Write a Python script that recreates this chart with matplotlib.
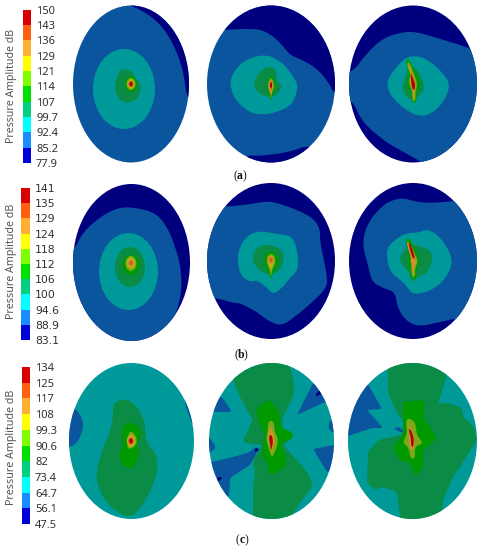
# pressure amplitude contour panels, outlines (pixel coords)

from matplotlib.pyplot import figure, close
from matplotlib.patches import Ellipse, Polygon
import matplotlib.colors as mc
import matplotlib.cm as cm
import numpy as n

## colorbar levels
levels_a = [77.9,85.2,92.4,99.7,107,114,121,129,136,143,150]
levels_b = [83.1,88.9,94.6,100,106,112,118,124,129,135,141]
levels_c = [47.5,56.1,64.7,73.4,82,90.6,99.3,108,117,125,134]
labels_a = ['77.9','85.2','92.4','99.7','107','114','121','129','136','143','150']
labels_b = ['83.1','88.9','94.6','100','106','112','118','124','129','135','141']
labels_c = ['47.5','56.1','64.7','73.4','82','90.6','99.3','108','117','125','134']

## colours
bar_cols = ['#0000d8','#1a8cff','#00ffff','#00d080','#00e000','#80ff00','#ffff00','#ffb030','#ff6010','#d80000']
map_cols = ['#00007f','#0b559f','#00999a','#0a8c46','#009a00','#7fa818','#bfb014','#d0902a','#c8601e','#b00010']

## panel shape : cx, cy, rx, ry
shapes_a = [(131,84,58,78.5),(271,84,64,78.5),(413,84,64,78.5)]
shapes_b = [(131.5,262.5,58.5,78.5),(271,261,64,78),(413,261,64,78)]
shapes_c = [(131.5,441,62.5,78),(271.5,441,62.5,78),(412.5,441,64.5,78)]

## contour regions : (level, outline) or (level, (cx,cy,rx,ry))
a1 = [
	(0,[(127,4),(145,12),(160,24),(170,38),(178,55),(184,75),(187,100),(200,100),(200,0),(127,0)]),
	(2,(124,89,31,40)),
	(3,[(127,69),(133,72),(135,78),(140,83),(141.5,90),(137,99),(128,103.5),(119,100),(114.5,88),(117,76),(121,69.5)]),
	(4,(131,84,6,8)),(5,(131,84,4.5,6)),(6,(131,84,3.5,4.5)),(8,(131,84,2.5,3.2)),(9,(131,84,1.6,2.2)),
]
a2 = [
	(0,[(200,30),(225,30),(240,29),(260,29),(273,36),(283,46),(290,55),(300,59),(315,67),(327,80),(335,95),(345,95),(345,0),(200,0)]),
	(0,[(311,144),(290,152),(260,156),(245,155),(240,170),(330,170)]),
	(2,[(263,55),(273,57),(285,65),(297,82),(297.5,90),(293,103),(283,110),(265,115),(250,113),(235,100),(230,85),(232,75),(240,64),(250,58)]),
	(3,[(270,66),(277,71),(276,80),(282,85),(280,92),(272,97.5),(260,95),(253,85),(257,75),(263,69)]),
	(4,[(271,74),(274,80),(275.5,87),(273,93),(271,102),(269,93),(266.5,87),(268,80)]),
	(5,[(271,77),(273.5,82),(274.5,87),(272,92),(271,100),(270,92),(267.5,87),(268.5,82)]),
	(7,[(271,79),(273,84),(273,89),(271.5,94),(270.5,94),(269,89),(269,84)]),
	(9,[(271,81),(272.5,85),(271,90),(269.5,85)]),
]
a3 = [
	(1,[(340,70),(352,73),(367,53),(383,38),(403,32),(417,32),(437,38),(470,48),(490,60),(490,170),(425,170),(422,162),(387,143),(363,123),(352,100),(340,98)]),
	(2,[(410,56),(423,57),(437,67),(448,80),(449.5,88),(443,103),(430,115),(417,116),(403,108),(390,95),(386.5,83),(392,72),(403,60)]),
	(3,[(410,66),(416,68),(421,76),(425,88),(420,95),(413,100.5),(405,96),(402,88),(405,78)]),
	(4,[(408,58),(411,63),(413,68),(418,77),(420.5,83),(418,90),(416,93),(416.5,103),(412,103),(411,92),(407,87),(408,75),(406.5,65),(406.5,60)]),
	(5,[(408,61),(411,66),(414,74),(417.5,84),(415.5,92),(415.5,101),(412.5,101),(412,90),(408.5,84),(410.5,74),(407,66)]),
	(7,[(408.5,63),(410,68),(413,75),(416,85),(414,92),(414.5,100),(413,100),(413,90),(410,82),(411,73),(408.5,68)]),
	(9,[(410.5,72),(413,78),(415.5,85),(414,91),(412,88),(411,80)]),
]
b1 = [
	(1,[(60,255),(73,252),(83,232),(100,217),(117,208),(132,207),(157,213),(170,232),(180,262),(182,288),(177,312),(168,328),(170,350),(60,350)]),
	(2,(128.5,271.5,29.5,38.5)),
	(3,(130,267,15,20)),
	(4,(131,265,8.5,10)),(5,(131,263.5,5.5,7.5)),(6,(131,263,4,5.5)),(7,(131,263,3,4)),(8,(131,263,1.7,2.2)),
]
b2 = [
	(1,[(200,298),(217,298),(233,303),(240,303),(257,312),(270,322),(283,326),(307,307),(327,288),(327,275),(320,242),(320,228),(312,217),(290,207),(270,201),(257,203),(250,204),(227,207),(200,205)]),
	(2,[(260,231),(277,234),(293,236),(298,255),(298,270),(290,278),(280,290),(273,294),(267,288),(257,280),(250,282),(240,275),(237,257),(242,242),(250,234)]),
	(3,[(265,244),(278,247),(285,255),(282,268),(273,275),(262,273),(253,263),(253,253),(258,247)]),
	(4,[(271,251),(276,254),(279,260),(276,268),(273,272),(271,281),(269,272),(266,268),(263.5,260),(266,254)]),
	(5,[(271,253),(275,257),(275.5,263),(272,270),(271,278),(270,270),(266.5,263),(267,257)]),
	(6,[(271,255),(274,258),(274,263),(271.5,268),(271,274),(270.5,268),(268,263),(268,258)]),
	(7,(271,260,3,3.8)),(8,(271,260,1.6,2.2)),
]
b3 = [
	(1,[(403,198),(417,202),(433,203),(453,201),(478,200),(490,250),(490,320),(458,318),(440,322),(417,327),(403,318),(397,305),(395,292),(383,288),(372,282),(368,265),(362,243),(368,222),(383,205),(393,200)]),
	(2,[(387,248),(397,238),(407,233),(417,233),(428,229),(440,237),(450,252),(452.5,265),(443,282),(428,292),(413,294.5),(407,287),(403,282),(390,272),(387,258)]),
	(3,[(407,248),(415,244),(430,250),(433,258),(428,273),(417,277),(415,281.5),(411,280.5),(410,273),(402,265),(399,257)]),
	(4,[(408,237),(412,242),(418,255),(419.5,263),(416,268),(416.5,279),(411,279),(409,265),(408,257),(408,250),(405.5,243)]),
	(5,[(407,240),(411,246),(416,256),(418,262),(415,268),(415,277),(412,277),(411,266),(412,258),(407.5,247)]),
	(7,[(407,241.5),(411,245),(416,258),(416.5,263),(414,268),(414,276),(413,276),(411.5,260),(407.5,246)]),
	(9,[(408,242.5),(410.5,243.5),(415.5,259),(413,260)]),
	(7,(413,261,2.5,3)),
]
c1 = [
	(1,[(75,407),(85,423),(78,443),(68,448),(60,448),(60,407)]),
	(1,[(182,395),(193,427),(200,427),(200,395)]),
	(3,[(120,400),(128,399),(138,408),(145,422),(145,433),(148,445),(157,455),(157.5,473),(148,497),(132,519),(113,510),(100,493),(95.5,475),(102,450),(110,433),(113,417),(113,403)]),
	(4,[(131,422),(140,428),(142,435),(137,442),(139,453),(137,463),(130,469.5),(122,465),(119,455),(123,445),(121,433),(124,425)]),
	(5,[(130,431),(135,434),(137.5,442),(133,448),(128,449),(127,443),(128,436)]),
	(6,(131,441,4.2,6)),(7,(131,441,3.2,4.5)),(8,(131,441,2.5,3.4)),(9,(131,441,1.7,2.4)),
]
c2 = [
	(1,[(222,397),(232,412),(213,412),(205,412),(205,397)]),
	(1,[(209,437),(216,447),(212,452),(200,452),(200,437)]),
	(1,[(212,462),(233,457),(250,452),(255,447),(259,448),(257,452),(250,465),(230,478),(229,497),(200,497),(200,462)]),
	(1,[(313,383),(297,415),(325,402),(345,400),(345,383)]),
	(1,[(328,428),(333,433),(345,433),(345,420),(330,420)]),
	(1,[(313,449),(333,445),(345,445),(345,475),(327,472)]),
	(0,[(315,396),(319,390),(322,393),(318,396)]),
	(0,[(217,477),(223,477),(218,482)]),
	(0,[(255,448),(260,449),(255,453)]),
	(3,[(233,380),(240,397),(250,415),(253,420),(250,425),(248,432),(243,438),(245,443),(262,445),(253,460),(255,473),(253,487),(253,517),(253,530),(292,530),(292,515),(300,503),(313,485),(307,472),(295,458),(283,445),(293,438),(292,432),(282,429),(283,417),(293,397),(294,383),(290,367),(290,355),(233,355)]),
	(4,[(270,400),(278,410),(282,428),(293,433),(292,438),(283,442),(282,447),(287,460),(285,467),(273,475),(268,472),(267,462),(262,457),(263,447),(265,435),(261,427),(257,417),(257,408),(263,403)]),
	(5,[(271,420),(274,423),(275,433),(278,438),(277,447),(272,458),(269,450),(266,438),(268,430),(268,423)]),
	(7,[(271,427),(274,435),(275,442),(272,452),(270,445),(268,437),(269,430)]),
	(9,[(270,434),(272.5,437),(273,443),(271,451),(270,443),(269,439)]),
]
c3 = [
	(1,[(368,384),(382,409),(367,410),(383,428),(372,428),(348,436),(335,436),(335,384)]),
	(1,[(393,428),(400,427),(406,434),(398,431)]),
	(3,[(388,355),(388,393),(397,413),(403,420),(405,433),(397,436),(378,440),(368,452),(367,483),(375,490),(383,487),(397,492),(400,517),(400,530),(442,530),(442,510),(443,500),(453,477),(460,467),(477,440),(473,425),(463,417),(462,408),(448,403),(438,404),(447,375),(447,355)]),
	(4,[(403,402),(425,400),(423,417),(437,438),(423,450),(423,468),(415,476),(410,463),(400,460),(393,448),(403,435),(403,415)]),
	(5,[(408,418),(415,422),(417,435),(423,443),(415,447),(415,458),(411,459),(408,447),(403,443),(407,433),(406,422)]),
	(7,[(408.5,424),(411,428),(414,438),(414.5,447),(412,452),(410,447),(409,438)]),
	(9,[(409,428),(412,432),(414,440),(413,448),(411,445),(411,438),(409,432)]),
]

## base level of each panel
base_a = [1,1,0]
base_b = [0,0,0]
base_c = [2,2,2]


def smooth_outline(pts,cut):
	## round the corners, cut at most cut px so the long sides stay in place
	p = n.array(pts,dtype=float)
	for _ in range(2):
		q = n.roll(p,-1,axis=0)
		L = n.hypot(*(q-p).T)[:,None]
		f = n.minimum(.25,cut/L)
		p = n.column_stack((p+f*(q-p),q-f*(q-p))).reshape(-1,2)
	return p


def plot_panel(ax,shape,base,regions,cut=6.):
	cx, cy, rx, ry = shape
	el = Ellipse((cx,cy),2*rx,2*ry,fc=map_cols[base],ec='none',zorder=1)
	ax.add_patch(el)

	for i,(lev,outl) in enumerate(regions):
		if len(outl)==4 and n.isscalar(outl[0]):
			pa = Ellipse(outl[:2],2*outl[2],2*outl[3],fc=map_cols[lev],ec='none',zorder=2+i)
		else:
			pa = Polygon(smooth_outline(outl,cut),closed=True,fc=map_cols[lev],ec='none',zorder=2+i)
		ax.add_patch(pa)
		pa.set_clip_path(el)


def plot_bar(fig,box,levels,labels,fam,fs):
	## box in pixel : left, top, right, bottom
	l, t, r, b = box
	cax = fig.add_axes([l/484,1-b/550,(r-l)/484,(b-t)/550])
	cmap = mc.ListedColormap(bar_cols)
	norm = mc.BoundaryNorm(levels,cmap.N)
	cb = fig.colorbar(cm.ScalarMappable(norm=norm,cmap=cmap),cax=cax,spacing='uniform',ticks=levels)
	cb.outline.set_visible(False)
	cb.ax.minorticks_off()
	cb.ax.tick_params(length=0,pad=4.,labelsize=fs,labelcolor='#303030')
	cb.ax.set_yticklabels(labels,family=fam)


def plot_tag(ax,x,y,let):
	ax.text(x-4.5,y,'(',ha='center',va='center',family='Liberation Serif',fontsize=8.5,color='#111111')
	ax.text(x,y,let,ha='center',va='center',family='Liberation Serif',fontsize=8.5,weight='bold',color='#111111')
	ax.text(x+4.5,y,')',ha='center',va='center',family='Liberation Serif',fontsize=8.5,color='#111111')


fig = figure(figsize=(4.84,5.5),dpi=100.)
ax = fig.add_axes([0,0,1,1])
ax.set(xlim=(0,484),ylim=(550,0))
ax.axis('off')

for sh,ba,re in zip(shapes_a,base_a,[a1,a2,a3]):
	plot_panel(ax,sh,ba,re)
for sh,ba,re in zip(shapes_b,base_b,[b1,b2,b3]):
	plot_panel(ax,sh,ba,re)
plot_panel(ax,shapes_c[0],base_c[0],c1)
plot_panel(ax,shapes_c[1],base_c[1],c2,cut=1.5)
plot_panel(ax,shapes_c[2],base_c[2],c3,cut=1.5)

plot_bar(fig,(23,9.5,30.5,163),levels_a,labels_a,'Noto Sans',8.)
plot_bar(fig,(20.5,188,29.5,340),levels_b,labels_b,'DejaVu Sans',7.8)
plot_bar(fig,(22,367,29.5,524),levels_c,labels_c,'Noto Sans',8.)

for y,fs in zip((85.5,261.5,447),(7.6,7.7,7.7)):
	ax.text(12,y,'Pressure Amplitude dB',rotation=90,ha='center',va='center',family='Noto Sans',fontsize=fs,color='#555555')

plot_tag(ax,240,176,'a')
plot_tag(ax,241,355,'b')
plot_tag(ax,242,540,'c')

fig.savefig('out.png',dpi=100.)
close()
